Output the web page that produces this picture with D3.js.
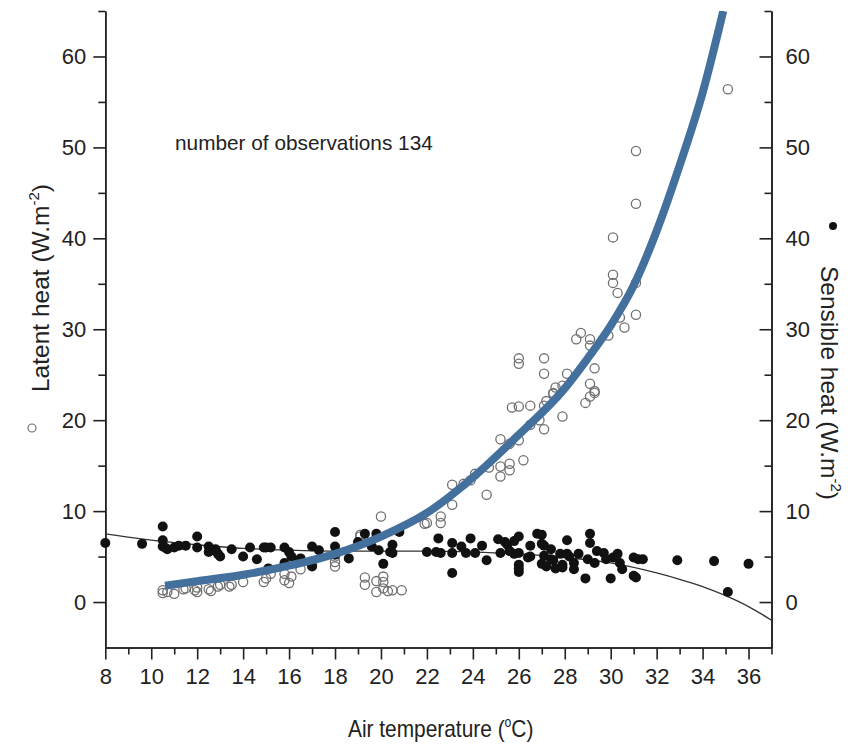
<!DOCTYPE html>
<html>
<head>
<meta charset="utf-8">
<script src="https://cdn.jsdelivr.net/npm/d3@7"></script>
<style>
  body { margin: 0; background: #fff; }
  text { font-family: 'Liberation Sans', Arial, sans-serif; fill: #222; }
  .axis path, .axis line { stroke: #222; stroke-width: 1.6; }
  .axis text { font-size: 22px; fill: #222; }
</style>
</head>
<body>
<div id="chart"></div>
<script>
// latent heat observations (open circles)
const latentT = [10.5, 10.5, 10.7, 11.0, 11.4, 11.5, 11.9, 12.0, 12.0, 12.5, 12.6, 12.9, 13.0, 13.4, 13.5,
  14.0, 14.9, 15.0, 15.2, 15.8, 15.8, 16.0, 16.1, 16.5, 17.0, 18.0, 18.0, 18.0, 18.0, 19.1, 19.1,
  19.3, 19.3, 19.8, 19.8, 20.0, 20.1, 20.1, 20.1, 20.3, 20.5, 20.9, 21.9, 22.0, 22.6, 22.6, 23.1,
  23.1, 23.6, 23.9, 24.1, 24.6, 24.7, 25.2, 25.2, 25.6, 25.6, 25.2, 25.6, 26.0, 26.2, 26.0, 26.5,
  26.5, 26.9, 27.1, 27.1, 27.2, 27.5, 27.6, 27.9, 27.9, 28.9, 29.1, 29.1, 29.3, 31.1, 30.1, 30.1,
  30.1, 30.3, 31.1, 31.1, 30.4, 30.6, 29.9, 28.7, 28.5, 29.1, 29.1, 27.1, 27.1, 28.1, 29.3, 27.5,
  29.3, 35.1, 31.1, 26.0, 26.0, 25.7]
const latentV = [1.0, 1.3, 1.1, 0.9, 1.4, 1.5, 1.3, 1.1, 1.6, 1.4, 1.2, 1.7, 1.9, 1.7, 1.9,
  2.2, 2.2, 2.6, 3.1, 2.4, 3.1, 2.1, 2.8, 3.6, 4.1, 5.4, 3.9, 4.4, 5.0, 7.4, 7.2,
  2.7, 1.9, 2.3, 1.1, 9.4, 2.8, 2.2, 1.5, 1.2, 1.3, 1.3, 8.6, 8.7, 9.4, 8.7, 10.7,
  12.9, 13.0, 13.4, 14.1, 11.8, 14.8, 13.8, 14.9, 14.5, 15.2, 17.9, 17.4, 17.8, 15.6, 21.5, 21.6,
  19.5, 20.0, 19.0, 21.6, 22.1, 22.9, 23.6, 23.8, 20.4, 21.9, 24.0, 22.6, 23.2, 43.8, 40.1, 36.0,
  35.1, 34.0, 35.1, 31.6, 31.3, 30.2, 29.3, 29.6, 28.9, 28.9, 28.2, 26.8, 25.1, 25.1, 25.7, 23.0,
  23.0, 56.4, 49.6, 26.8, 26.2, 21.4]

// sensible heat observations (filled dots)
const sensibleT = [8.0, 9.6, 10.5, 10.5, 10.5, 10.7, 11.0, 11.2, 11.5, 12.0, 12.0, 12.5, 12.5, 12.8, 12.9,
  13.0, 13.5, 14.0, 14.3, 14.6, 15.0, 15.2, 15.8, 16.0, 15.8, 16.1, 16.5, 17.0, 17.0, 17.3, 18.0,
  18.0, 18.0, 18.6, 19.0, 19.3, 19.6, 19.8, 19.9, 20.1, 20.4, 20.5, 20.5, 20.8, 22.0, 22.4, 22.5,
  22.6, 23.1, 23.1, 23.1, 23.5, 23.7, 23.9, 24.1, 24.4, 24.6, 25.1, 25.2, 25.4, 25.5, 25.6, 25.8,
  25.8, 26.0, 26.0, 26.0, 26.0, 26.0, 26.4, 26.5, 26.5, 26.8, 27.0, 27.0, 27.1, 27.1, 27.0, 27.2,
  27.4, 27.4, 27.5, 27.6, 27.8, 27.9, 27.9, 28.1, 28.1, 28.2, 28.4, 28.4, 28.6, 28.9, 29.0, 29.1,
  29.1, 29.3, 29.4, 29.7, 29.8, 30.0, 30.1, 30.3, 30.4, 30.5, 31.0, 31.0, 31.1, 31.2, 31.4, 32.9,
  34.5, 36.0, 35.1, 15.1, 16.3, 10.6, 12.6, 14.9]
const sensibleV = [6.5, 6.4, 8.3, 6.8, 6.1, 5.8, 6.0, 6.2, 6.2, 7.2, 6.0, 6.1, 5.5, 5.8, 5.3,
  5.0, 5.8, 5.0, 6.0, 4.7, 6.0, 6.0, 6.0, 5.5, 4.3, 5.0, 4.8, 6.1, 3.9, 5.7, 7.7,
  6.1, 5.2, 4.8, 6.6, 7.5, 6.1, 7.5, 5.7, 4.2, 5.5, 6.3, 5.4, 7.7, 5.5, 5.5, 7.0,
  5.4, 6.5, 5.4, 3.2, 6.1, 5.4, 7.0, 5.4, 6.2, 4.6, 6.9, 5.4, 6.6, 6.3, 5.6, 6.7,
  5.3, 7.2, 5.4, 4.1, 3.3, 3.7, 4.9, 6.2, 5.0, 7.5, 7.4, 6.4, 6.2, 5.1, 4.2, 3.9,
  5.8, 4.7, 4.6, 3.7, 5.3, 4.1, 3.8, 6.8, 5.3, 5.0, 4.3, 3.6, 5.3, 2.6, 4.7, 7.5,
  6.5, 4.3, 5.6, 5.4, 4.7, 2.6, 4.9, 5.3, 4.3, 3.6, 4.9, 2.9, 2.7, 4.7, 4.7, 4.6,
  4.5, 4.2, 1.1, 3.7, 4.4, 6.0, 5.7, 6.0]

// fitted curves as drawn in the picture
const latentFitT = [10.6, 12, 14, 16, 18, 20, 22, 24, 26, 28, 29, 30, 31, 32, 33, 34, 34.9]
const latentFitV = [1.8, 2.3, 3.0, 4.0, 5.3, 7.2, 9.8, 13.7, 18.4, 23.5, 26.8, 30.4, 34.8, 40.8, 48, 56, 65]
const sensibleFitT = [8, 10, 12, 14, 16, 18, 20, 22, 24, 26, 28, 30, 32, 33, 34, 35, 36, 37]
const sensibleFitV = [7.5, 6.8, 6.3, 5.9, 5.7, 5.6, 5.6, 5.6, 5.5, 5.3, 4.9, 4.3, 3.2, 2.5, 1.7, 0.7, -0.5, -2.0]

const xMajor = d3.range(8, 37, 2)
const xMinor = d3.range(9, 38, 2)
const yMajor = [0, 10, 20, 30, 40, 50, 60]
const yMinor = [5, 15, 25, 35, 45, 55, 65]

const width = 859
const height = 745
const plotLeft = 105.3
const plotRight = 771.5
const plotTop = 11
const plotBottom = 647.5

const svg = d3
  .select('#chart')
  .append('svg')
  .attr('width', width)
  .attr('height', height)

const x = d3.scaleLinear().domain([8, 37]).range([plotLeft, plotRight])
const y = d3.scaleLinear().domain([-5, 65]).range([plotBottom, plotTop])

svg.append('clipPath').attr('id', 'plot')
  .append('rect')
  .attr('x', plotLeft).attr('y', plotTop)
  .attr('width', plotRight - plotLeft).attr('height', plotBottom - plotTop)

// axes: major ticks labelled, minor ones shorter
svg.append('g').attr('class', 'axis')
  .attr('transform', 'translate(0,' + plotBottom + ')')
  .call(d3.axisBottom(x).tickValues(xMajor).tickSizeInner(12).tickSizeOuter(0).tickPadding(9).tickFormat(d3.format('d')))
svg.append('g').attr('class', 'axis')
  .attr('transform', 'translate(0,' + plotBottom + ')')
  .call(d3.axisBottom(x).tickValues(xMinor).tickSizeInner(7).tickSizeOuter(0).tickFormat(''))

svg.append('g').attr('class', 'axis')
  .attr('transform', 'translate(' + plotLeft + ',0)')
  .call(d3.axisLeft(y).tickValues(yMajor).tickSizeInner(12).tickSizeOuter(0).tickPadding(7))
svg.append('g').attr('class', 'axis')
  .attr('transform', 'translate(' + plotLeft + ',0)')
  .call(d3.axisLeft(y).tickValues(yMinor).tickSizeInner(7).tickSizeOuter(0).tickFormat(''))

// right axis: ticks point inward, labels outside
svg.append('g').attr('class', 'axis')
  .attr('transform', 'translate(' + plotRight + ',0)')
  .call(d3.axisRight(y).tickValues(yMajor).tickSizeInner(-12).tickSizeOuter(0).tickPadding(14))
svg.append('g').attr('class', 'axis')
  .attr('transform', 'translate(' + plotRight + ',0)')
  .call(d3.axisRight(y).tickValues(yMinor).tickSizeInner(-7).tickSizeOuter(0).tickFormat(''))

svg.selectAll('.axis text').style('font-family', 'Liberation Sans, Arial, sans-serif')

// sensible heat fit (thin line)
const sensibleLine = d3.line()
  .x((d, i) => x(sensibleFitT[i]))
  .y(d => y(d))
  .curve(d3.curveMonotoneX)
svg.append('path')
  .attr('clip-path', 'url(#plot)')
  .attr('d', sensibleLine(sensibleFitV))
  .attr('fill', 'none')
  .attr('stroke', '#333')
  .attr('stroke-width', 1.3)

// latent heat points
svg.append('g')
  .selectAll('circle')
  .data(latentV)
  .enter()
  .append('circle')
  .attr('cx', (d, i) => x(latentT[i]))
  .attr('cy', d => y(d))
  .attr('r', 4.6)
  .attr('fill', 'none')
  .attr('stroke', '#707070')
  .attr('stroke-width', 1.3)

// sensible heat points
svg.append('g')
  .selectAll('circle')
  .data(sensibleV)
  .enter()
  .append('circle')
  .attr('cx', (d, i) => x(sensibleT[i]))
  .attr('cy', d => y(d))
  .attr('r', 5)
  .attr('fill', '#111')

// latent heat fit (thick blue)
const latentLine = d3.line()
  .x((d, i) => x(latentFitT[i]))
  .y(d => y(d))
  .curve(d3.curveMonotoneX)
svg.append('path')
  .attr('clip-path', 'url(#plot)')
  .attr('d', latentLine(latentFitV))
  .attr('fill', 'none')
  .attr('stroke', '#43709c')
  .attr('stroke-width', 8)

// texts
svg.append('text')
  .attr('x', 175)
  .attr('y', 150)
  .style('font-size', '20.8px')
  .text('number of observations 134')

// x title is narrow in the original, so squeeze it horizontally
const xTitle = svg.append('text')
  .attr('transform', 'translate(348,737) scale(0.87,1)')
  .style('font-size', '24px')
xTitle.append('tspan').text('Air temperature (')
xTitle.append('tspan').attr('dy', -10).style('font-size', '14px').text('o')
xTitle.append('tspan').attr('dy', 10).text('C)')

const yTitle = svg.append('text')
  .attr('transform', 'translate(49,288) rotate(-90)')
  .attr('text-anchor', 'middle')
  .style('font-size', '24.5px')
yTitle.append('tspan').text('Latent heat (W.m')
yTitle.append('tspan').attr('dy', -10).style('font-size', '15px').text('-2')
yTitle.append('tspan').attr('dy', 10).text(')')

const y2Title = svg.append('text')
  .attr('transform', 'translate(821,383) rotate(90)')
  .attr('text-anchor', 'middle')
  .style('font-size', '24.5px')
y2Title.append('tspan').text('Sensible heat (W.m')
y2Title.append('tspan').attr('dy', -10).style('font-size', '15px').text('-2')
y2Title.append('tspan').attr('dy', 10).text(')')

// legend markers next to the titles
svg.append('circle')
  .attr('cx', 32).attr('cy', 428).attr('r', 4)
  .attr('fill', 'none').attr('stroke', '#707070').attr('stroke-width', 1.2)
svg.append('circle')
  .attr('cx', 833).attr('cy', 226).attr('r', 4)
  .attr('fill', '#111')
</script>
</body>
</html>
